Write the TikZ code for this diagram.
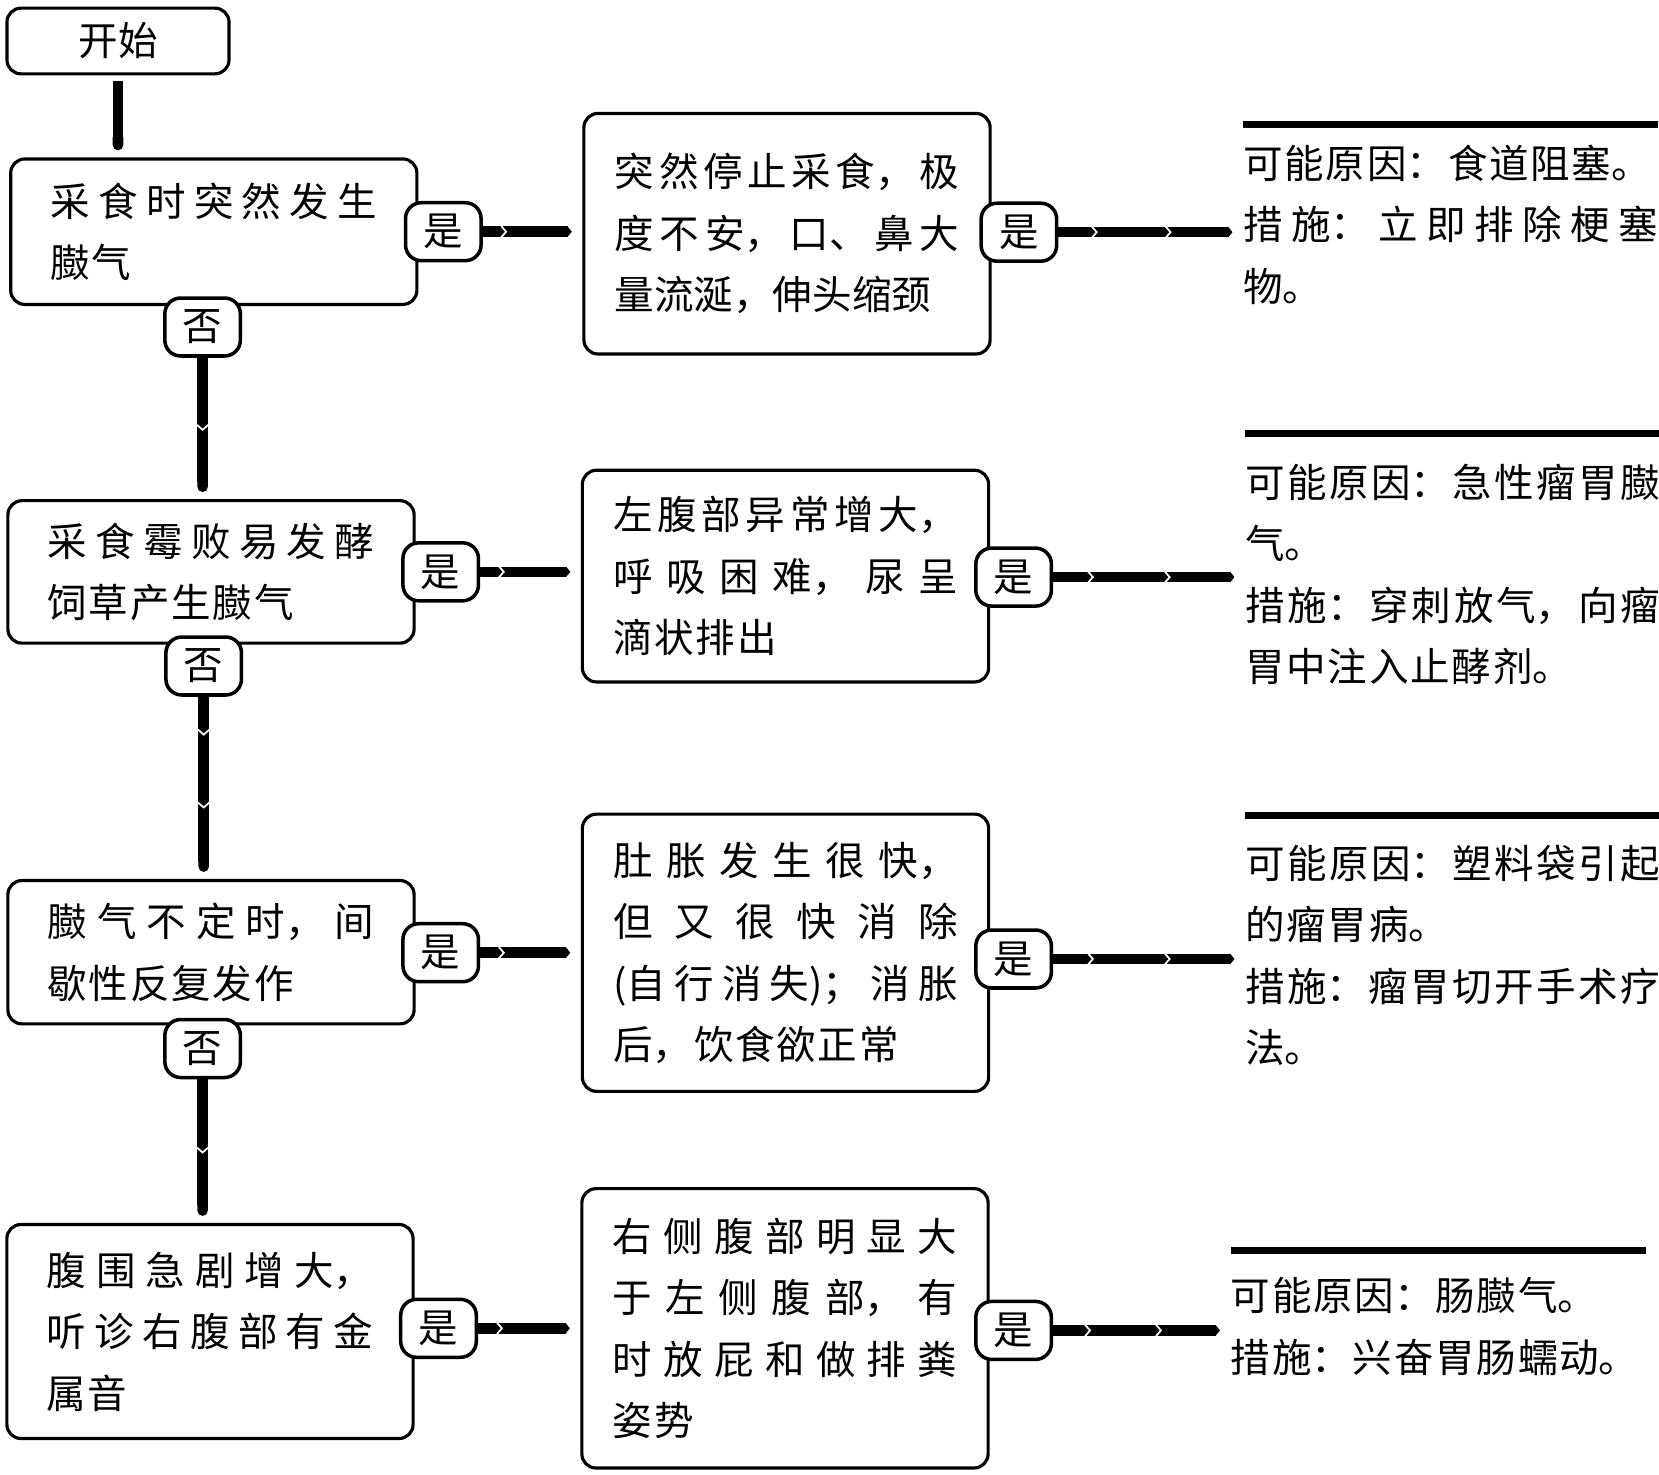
\documentclass[tikz,border=0pt]{standalone}
\usepackage{fontspec}
\usetikzlibrary{arrows.meta,decorations.markings}
\newfontfamily\cjk{Noto Sans CJK SC}
\XeTeXlinebreaklocale "zh"
\newcommand\flowfont{\cjk\fontsize{22.5}{35}\selectfont\XeTeXlinebreakskip=1pt plus 30pt\relax}
\hbadness=10000
\begin{document}
\begin{tikzpicture}[x=0.02cm, y=0.02cm,
  box/.style={draw, line width=1.8pt, rounded corners=8pt, align=justify, font=\flowfont},
  qbox/.style={box, text width=186pt, inner xsep=22.6pt, inner ysep=4pt, minimum height=#1},
  sbox/.style={box, text width=196pt, inner xsep=17.6pt, inner ysep=4pt, minimum height=#1},
  tag/.style={draw, fill=white, line width=2pt, rounded corners=9pt, minimum width=43pt, minimum height=33pt, inner sep=0pt, font=\flowfont},
  res/.style={text width=236pt, align=justify, inner sep=0pt, anchor=north west, font=\flowfont},
  topline/.style={line width=4pt},
  link/.style={line width=6pt},
  hlink/.style={link, -{Triangle[length=2.5pt, width=6pt]}, shorten >=6pt},
  vlink/.style={link, -{Round Cap}, shorten >=4pt},
  notch/.style={postaction={decorate, decoration={markings,
     mark=at position #1 with {\draw[white, line width=1pt, -, shorten >=0pt] (-2pt,-3.2pt) -- (0.8pt,0pt) -- (-2pt,3.2pt);}}}}]
\useasboundingbox (0,0) rectangle (1659,-1474);

% left column
\node[draw, line width=1.8pt, rounded corners=8pt, minimum width=126.4pt, minimum height=37.4pt, font=\flowfont] (start) at (118,-41) {开始};
\node[qbox=82.8pt] (q1) at (213.8,-231.7) {采食时突然发生\linebreak 臌气};
\node[qbox=81.1pt] (q2) at (211,-571.9) {采食霉败易发酵\linebreak 饲草产生臌气};
\node[qbox=81.6pt] (q3) at (211,-952.2) {臌气不定时，间\linebreak 歇性反复发作};
\node[qbox=121.8pt] (q4) at (210,-1331.5) {腹围急剧增大，\linebreak 听诊右腹部有金\linebreak 属音};

% middle column
\node[sbox=136.9pt] (s1) at (787,-233.7) {突然停止采食，极\linebreak 度不安，口、鼻大\linebreak \makebox[\linewidth][s]{量流涎，伸头缩颈}};
\node[sbox=120.5pt] (s2) at (785.5,-576.1) {左腹部异常增大，\linebreak 呼吸困难，尿呈\linebreak 滴状排出};
\node[sbox=157.8pt] (s3) at (785.5,-952.7) {肚胀发生很快，\linebreak 但又很快消除\linebreak (自行消失)；消胀\linebreak 后，饮食欲正常};
\node[sbox=159pt] (s4) at (785,-1328.3) {右侧腹部明显大\linebreak 于左侧腹部，有\linebreak 时放屁和做排粪\linebreak 姿势};

% yes / no tags
\node[tag] (y1) at (443.3,-231.7) {是};
\node[tag] (y2) at (440.7,-571.8) {是};
\node[tag] (y3) at (440.7,-952.7) {是};
\node[tag] (y4) at (438.5,-1328.3) {是};
\node[tag] (ys1) at (1018.9,-232.2) {是};
\node[tag] (ys2) at (1013.6,-577.1) {是};
\node[tag] (ys3) at (1013.6,-959) {是};
\node[tag] (ys4) at (1013.6,-1330.4) {是};
\node[tag] (n1) at (202.6,-327) {否};
\node[tag] (n2) at (203.7,-666) {否};
\node[tag] (n3) at (202.6,-1048.5) {否};

% results
\node[res] (r1) at (1243,-144.2) {可能原因：食道阻塞。\\措施：立即排除梗塞\linebreak 物。};
\node[res] (r2) at (1245,-463.7) {可能原因：急性瘤胃臌\linebreak 气。\\措施：穿刺放气，向瘤\linebreak 胃中注入止酵剂。};
\node[res] (r3) at (1245,-844.6) {可能原因：塑料袋引起\linebreak 的瘤胃病。\\措施：瘤胃切开手术疗\linebreak 法。};
\node[res] (r4) at (1230.5,-1277.2) {可能原因：肠臌气。\\措施：兴奋胃肠蠕动。};
\draw[topline] ([yshift=11pt]r1.north west) -- ([yshift=11pt]r1.north east);
\draw[topline] ([yshift=17pt]r2.north west) -- ([yshift=17pt]r2.north east);
\draw[topline] ([yshift=16.4pt]r3.north west) -- ([yshift=16.4pt]r3.north east);
\draw[topline] ([yshift=15pt]r4.north west) -- ([yshift=15pt]r4.north east);

% connectors
\draw[vlink, shorten <=3pt] (start.south) -- (start.south |- q1.north);
\draw[vlink, notch=0.5] (n1.south) -- (n1.south |- q2.north);
\draw[vlink, notch=0.2, notch=0.6] (n2.south) -- (n2.south |- q3.north);
\draw[vlink, notch=0.5] (n3.south) -- (n3.south |- q4.north);
\draw[hlink, notch=0.22] (y1.east) -- (y1.east -| s1.west);
\draw[hlink, notch=0.22] (y2.east) -- (y2.east -| s2.west);
\draw[hlink, notch=0.22] (y3.east) -- (y3.east -| s3.west);
\draw[hlink, notch=0.22] (y4.east) -- (y4.east -| s4.west);
\draw[hlink, notch=0.2, notch=0.6] (ys1.east) -- (ys1.east -| r1.west);
\draw[hlink, notch=0.2, notch=0.6] (ys2.east) -- (ys2.east -| r2.west);
\draw[hlink, notch=0.2, notch=0.6] (ys3.east) -- (ys3.east -| r3.west);
\draw[hlink, notch=0.2, notch=0.6] (ys4.east) -- (ys4.east -| r4.west);
\end{tikzpicture}
\end{document}
